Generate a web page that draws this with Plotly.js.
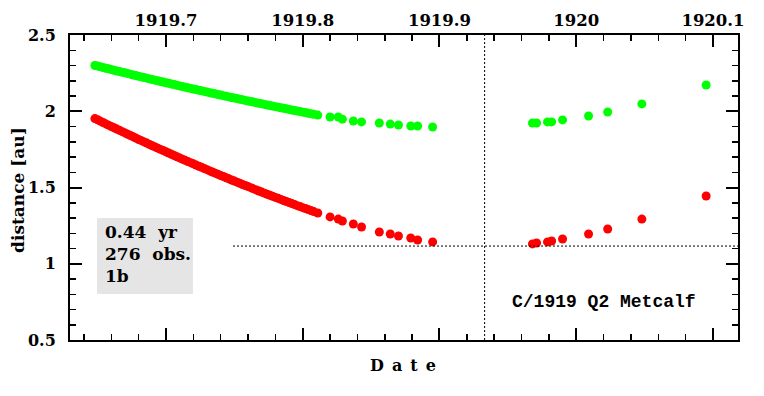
<!DOCTYPE html>
<html>
<head>
<meta charset="utf-8">
<script src="https://cdn.plot.ly/plotly-3.0.1.min.js"></script>
<style>html,body{margin:0;padding:0;background:#fff;}#chart{width:764px;height:396px;}</style>
</head>
<body>
<div id="chart"></div>
<script>
// Observation dates (decimal years)
const dates = [
  1919.648,1919.650,1919.652,1919.654,1919.656,1919.658,1919.660,1919.662,1919.664,1919.666,
  1919.668,1919.670,1919.672,1919.674,1919.676,1919.678,1919.680,1919.682,1919.684,1919.686,
  1919.688,1919.690,1919.692,1919.694,1919.696,1919.698,1919.700,1919.702,1919.704,1919.706,
  1919.708,1919.710,1919.712,1919.714,1919.716,1919.718,1919.720,1919.722,1919.724,1919.726,
  1919.728,1919.730,1919.732,1919.734,1919.736,1919.738,1919.740,1919.742,1919.744,1919.746,
  1919.748,1919.750,1919.752,1919.754,1919.756,1919.758,1919.760,1919.762,1919.764,1919.766,
  1919.768,1919.770,1919.772,1919.774,1919.776,1919.778,1919.780,1919.782,1919.784,1919.786,
  1919.788,1919.790,1919.792,1919.794,1919.796,1919.798,1919.800,1919.802,1919.804,1919.806,
  1919.808,
  1919.811,1919.820,1919.826,1919.829,1919.837,1919.843,1919.856,1919.864,1919.870,1919.879,
  1919.884,1919.895,
  1919.968,1919.971,1919.979,1919.982,1919.990,1920.009,1920.023,1920.048,1920.095
];
// Heliocentric distance r [au] (green)
const helioDist = [
  2.300,2.296,2.291,2.287,2.282,2.278,2.273,2.269,2.264,2.260,
  2.256,2.252,2.247,2.243,2.238,2.234,2.229,2.225,2.221,2.217,
  2.212,2.208,2.204,2.200,2.195,2.191,2.187,2.183,2.179,2.175,
  2.170,2.166,2.162,2.158,2.154,2.150,2.146,2.142,2.138,2.134,
  2.130,2.126,2.122,2.118,2.114,2.110,2.106,2.102,2.098,2.094,
  2.090,2.087,2.083,2.079,2.075,2.071,2.067,2.064,2.060,2.056,
  2.052,2.049,2.045,2.041,2.037,2.034,2.030,2.027,2.023,2.020,
  2.016,2.012,2.008,2.005,2.001,1.998,1.994,1.991,1.987,1.984,
  1.980,
  1.975,1.962,1.962,1.948,1.936,1.930,1.923,1.916,1.910,1.903,
  1.903,1.897,
  1.923,1.923,1.930,1.930,1.943,1.969,1.995,2.048,2.172
];
// Geocentric distance Delta [au] (red)
const geoDist = [
  1.952,1.944,1.935,1.926,1.917,1.909,1.900,1.892,1.883,1.875,
  1.866,1.858,1.849,1.841,1.832,1.824,1.815,1.807,1.799,1.791,
  1.782,1.774,1.766,1.758,1.750,1.742,1.734,1.726,1.718,1.710,
  1.702,1.694,1.686,1.678,1.670,1.663,1.655,1.647,1.639,1.632,
  1.624,1.617,1.609,1.602,1.594,1.587,1.579,1.572,1.564,1.557,
  1.549,1.542,1.535,1.528,1.520,1.513,1.506,1.499,1.491,1.484,
  1.477,1.470,1.463,1.456,1.449,1.442,1.435,1.429,1.422,1.415,
  1.408,1.402,1.395,1.388,1.381,1.375,1.368,1.362,1.355,1.349,
  1.342,
  1.333,1.307,1.293,1.280,1.261,1.241,1.208,1.195,1.182,1.169,
  1.156,1.143,
  1.130,1.136,1.143,1.149,1.162,1.195,1.228,1.293,1.444
];
// Perihelion reference lines
const periDate = 1919.933;
const periQ = 1.116;
const qLineStart = 1919.749;

const xTickVals = [1919.7, 1919.8, 1919.9, 1920.0, 1920.1];
const xTickText = ['1919.7', '1919.8', '1919.9', '1920', '1920.1'];
const yTickVals = [0.5, 1.0, 1.5, 2.0, 2.5];
const yTickText = ['0.5', '1', '1.5', '2', '2.5'];
const xRange = [1919.6298, 1920.1183];
const yRange = [0.5, 2.5];

const infoLines = ['0.44  yr', '276  obs.', '1b'];
const cometName = 'C/1919 Q2 Metcalf';
const xTitle = 'D\u2002a\u2002t\u2002e';
const yTitle = 'distance [au]';

const FONT = 'DejaVu Serif';

const traces = [
  {x: dates, y: helioDist, mode: 'markers', type: 'scatter',
   marker: {color: '#00ff00', size: 9}, hoverinfo: 'skip'},
  {x: dates, y: geoDist, mode: 'markers', type: 'scatter',
   marker: {color: '#ff0000', size: 9}, hoverinfo: 'skip'}
];

const layout = {
  width: 764, height: 396,
  margin: {l: 70, r: 26, t: 35, b: 56},
  paper_bgcolor: '#fff', plot_bgcolor: '#fff',
  showlegend: false,
  xaxis: {
    range: xRange, side: 'top', showgrid: false, zeroline: false,
    showline: true, linecolor: '#000', linewidth: 2, mirror: 'allticks',
    ticks: 'inside', ticklen: 12, tickwidth: 2, tickcolor: '#000',
    tickmode: 'array', tickvals: xTickVals, ticktext: xTickText,
    tickfont: {family: FONT, size: 16.5, color: '#000', weight: 'bold'},
    minor: {dtick: 0.02, tick0: 1919.7, ticks: 'inside', ticklen: 6, tickwidth: 1.5, tickcolor: '#000', showgrid: false}
  },
  yaxis: {
    range: yRange, showgrid: false, zeroline: false,
    showline: true, linecolor: '#000', linewidth: 2, mirror: 'allticks',
    ticks: 'inside', ticklen: 12, tickwidth: 2, tickcolor: '#000',
    tickmode: 'array', tickvals: yTickVals, ticktext: yTickText,
    ticklabelstandoff: 9,
    tickfont: {family: FONT, size: 16, color: '#000', weight: 'bold'},
    minor: {dtick: 0.1, tick0: 0.5, ticks: 'inside', ticklen: 6, tickwidth: 1.5, tickcolor: '#000', showgrid: false}
  },
  shapes: [
    {type: 'line', xref: 'x', yref: 'paper', x0: periDate, x1: periDate, y0: 0, y1: 1,
     line: {color: '#000', width: 1, dash: '2px,2px'}},
    {type: 'line', xref: 'x', yref: 'y', x0: qLineStart, x1: xRange[1], y0: periQ, y1: periQ,
     line: {color: '#000', width: 1, dash: '2px,2px'}},
    {type: 'rect', xref: 'paper', yref: 'paper', x0: 0.0404, x1: 0.184, y0: 0.151, y1: 0.400,
     fillcolor: '#e5e5e5', line: {width: 0}, layer: 'below'}
  ],
  annotations: [
    {xref: 'paper', yref: 'paper', x: 0.049, y: 0.392, xanchor: 'left', yanchor: 'top',
     align: 'left', showarrow: false, text: infoLines.join('<br>'),
     font: {family: FONT, size: 17, color: '#000', weight: 'bold'}},
    {xref: 'paper', yref: 'paper', x: 0.799, y: 0.1246, xanchor: 'center', yanchor: 'middle',
     showarrow: false, text: cometName,
     font: {family: 'Liberation Mono', size: 18, color: '#000', weight: 'bold'}},
    {xref: 'paper', yref: 'paper', x: 0.4985, y: -0.082, xanchor: 'center', yanchor: 'middle',
     showarrow: false, text: xTitle,
     font: {family: FONT, size: 16, color: '#000', weight: 'bold'}},
    {xref: 'paper', yref: 'paper', x: -0.0778, y: 0.492, xanchor: 'center', yanchor: 'middle',
     showarrow: false, text: yTitle, textangle: -90,
     font: {family: FONT, size: 17, color: '#000', weight: 'bold'}}
  ]
};

Plotly.newPlot('chart', traces, layout, {staticPlot: true, displayModeBar: false});
</script>
</body>
</html>
